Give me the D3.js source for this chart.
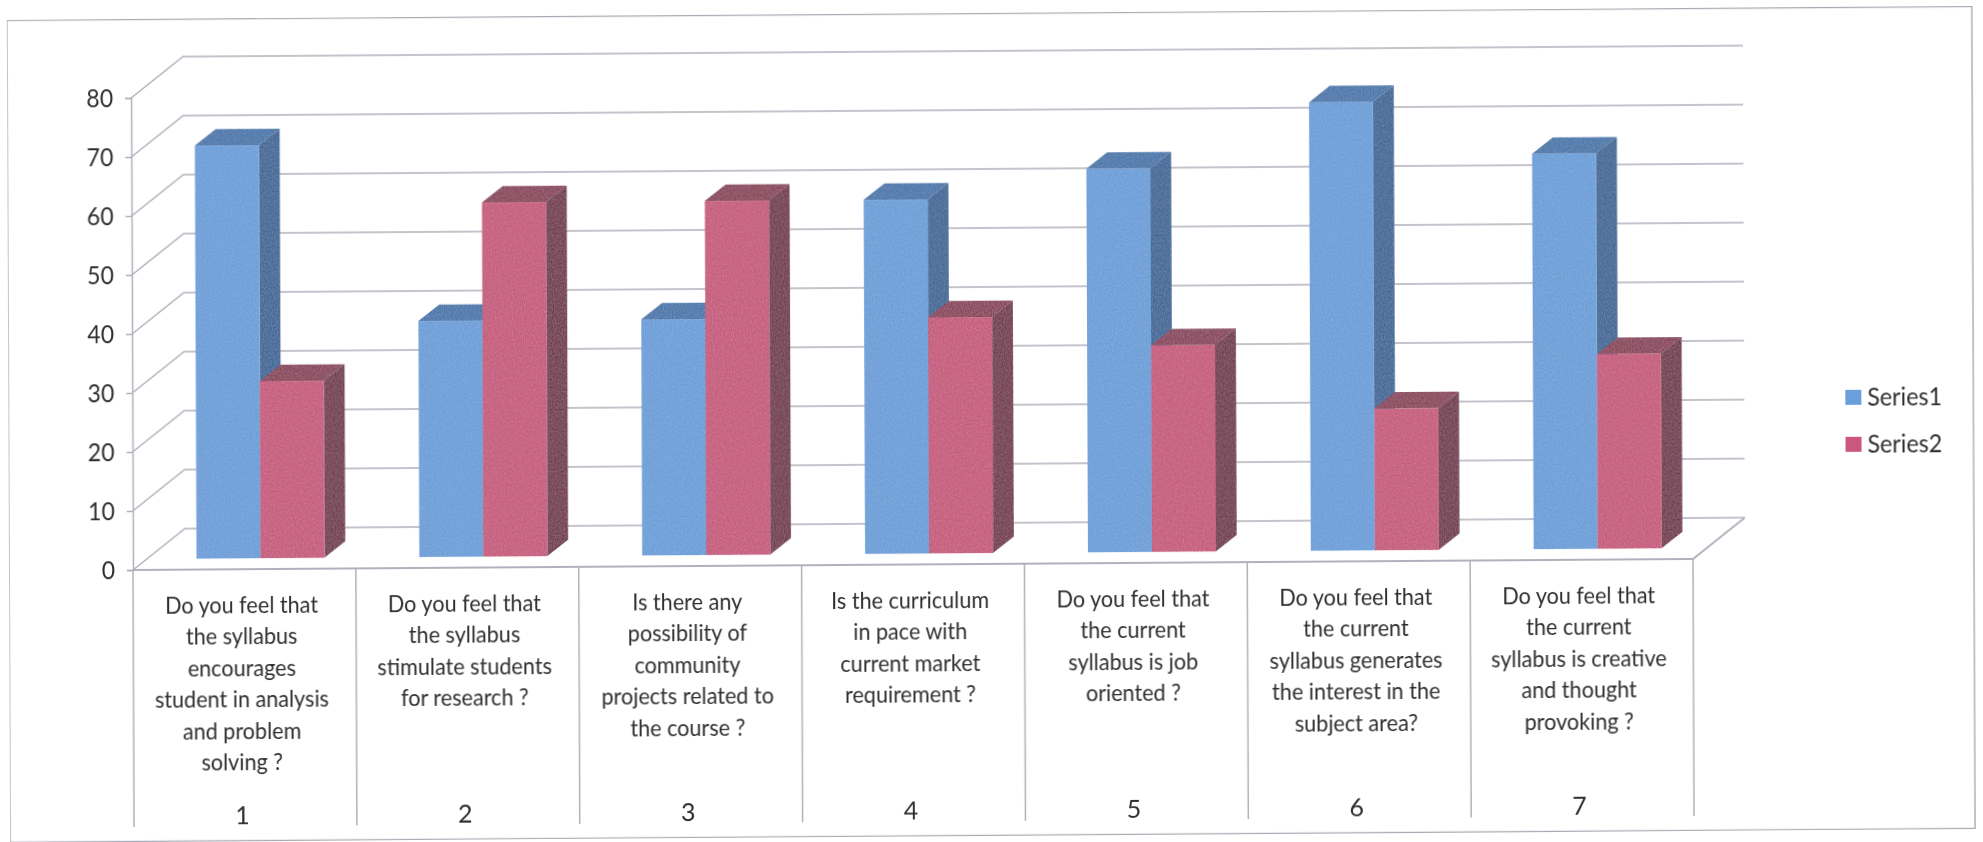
<!DOCTYPE html>
<html><head><meta charset="utf-8">
<script src="https://cdn.jsdelivr.net/npm/d3@7"></script>
<style>html,body{margin:0;background:#fff}svg{display:block}text{font-family:Lato,"Open Sans",sans-serif;fill:#2f2f2f}</style>
</head><body><svg id="c" width="1983" height="842"></svg>
<script>
const categories = ["1","2","3","4","5","6","7"];
const series1 = [70,40,40,60,65,76,67];
const series2 = [30,60,60,40,35,24,33];
const seriesNames = ["Series1","Series2"];
const yTicks = [0,10,20,30,40,50,60,70,80];
const labelLines = [
 ["Do you feel that","the syllabus","encourages","student in analysis","and problem","solving ?"],
 ["Do you feel that","the syllabus","stimulate students","for research ?"],
 ["Is there any","possibility of","community","projects related to","the course ?"],
 ["Is the curriculum","in pace with","current market","requirement ?"],
 ["Do you feel that","the current","syllabus is job","oriented ?"],
 ["Do you feel that","the current","syllabus generates","the interest in the","subject area?"],
 ["Do you feel that","the current","syllabus is creative","and thought","provoking ?"]
];
const palette = [
 {front:"#6b9ed8",side:"#3f6897",top:"#4a77ab",key:"#6a9fdb"},
 {front:"#c65a7d",side:"#733a4f",top:"#89445b",key:"#c9587c"}
];

const svg = d3.select("#c");
const defs = svg.append("defs");
const soft = defs.append("filter").attr("id","soft").attr("x",0).attr("y",0).attr("width","100%").attr("height","100%");
soft.append("feGaussianBlur").attr("stdDeviation",0.6);
const mottle = defs.append("filter").attr("id","mottle").attr("x",0).attr("y",0).attr("width","100%").attr("height","100%");
mottle.append("feTurbulence").attr("type","fractalNoise").attr("baseFrequency","0.9 0.5").attr("numOctaves",1).attr("seed",4).attr("result","n");
mottle.append("feColorMatrix").attr("in","n").attr("type","matrix")
  .attr("values","0 0 0 0 1  0 0 0 0 1  0 0 0 0 1  0.22 0 0 0 -0.07").attr("result","a");
mottle.append("feComposite").attr("in","a").attr("in2","SourceAlpha").attr("operator","in").attr("result","b");
const mm=mottle.append("feMerge"); mm.append("feMergeNode").attr("in","SourceGraphic"); mm.append("feMergeNode").attr("in","b");

const X0=133, X1=1693, Y0=570, Y80=98, DX=52, DY=-41, AXB=827;
const x = d3.scaleBand().domain(categories).range([X0,X1]);
const y = d3.scaleLinear().domain([0,80]).range([Y0,Y80]);
const barW = 64, d0=0.31, d1=0.71, barShift=1.8, textShift=-3;
const b=-0.00707, c=0.004;
const root = svg.append("g").attr("filter","url(#soft)")
  .attr("transform",`matrix(1,${b},${c},1,${-c*Y0},${-b*X0})`);

const gridC="#b2b0bc";
// frame
root.append("rect").attr("x",9).attr("y",19.5).attr("width",1965).attr("height",822)
  .attr("fill","none").attr("stroke","#aaaab6").attr("stroke-width",1.4);

// gridlines: back wall + side wall
const g=root.append("g").attr("stroke",gridC).attr("stroke-width",1.5).attr("fill","none");
g.selectAll("path.grid").data(yTicks).join("path").attr("class","grid")
 .attr("d",v=>`M${X0},${y(v)}L${X0+DX},${y(v)+DY}L${X1+DX},${y(v)+DY}`);
// floor front, right edge
g.append("path").attr("d",`M${X0},${Y0}L${X1},${Y0}L${X1+DX},${Y0+DY}`).attr("stroke-width",1.9);
// vertical separators
g.selectAll("path.sep").data(d3.range(categories.length+1)).join("path").attr("class","sep")
 .attr("d",i=>`M${X0+i*x.bandwidth()},${Y0}V${AXB}`);

// y axis
const yAxis = root.append("g").attr("transform",`translate(${X0},0)`)
 .call(d3.axisLeft(y).tickValues(yTicks).tickSize(6).tickPadding(12));
yAxis.select(".domain").attr("stroke",gridC).attr("stroke-width",1.5);
yAxis.selectAll("line").attr("stroke",gridC).attr("stroke-width",1.5);
yAxis.selectAll("text").attr("font-size",25).style("font-family","Lato").attr("fill","#2f2f2f")
 .attr("x",-18/0.92).attr("transform","scale(0.92,1)");

// bars
const bars=root.append("g").attr("filter","url(#mottle)");
categories.forEach((cat,i)=>{
  const cx=x(cat)+x.bandwidth()/2;
  [series1,series2].forEach((vals,s)=>{
    const v=vals[i], col=palette[s];
    const xl=cx+(s-1)*barW+d0*DX, xr=xl+barW;
    const yb=Y0+d0*DY+barShift, yt=yb-(Y0-y(v));
    const ddx=(d1-d0)*DX, ddy=(d1-d0)*DY;
    const gb=bars.append("g");
    gb.append("path").attr("fill",col.top).attr("d",`M${xl},${yt}L${xl+ddx},${yt+ddy}H${xr+ddx}L${xr},${yt}Z`);
    gb.append("path").attr("fill",col.side).attr("d",`M${xr},${yt}L${xr+ddx},${yt+ddy}V${yb+ddy}L${xr},${yb}Z`);
    gb.append("rect").attr("fill",col.front).attr("x",xl).attr("y",yt).attr("width",barW).attr("height",yb-yt);
  });
});

// category labels
const lab=root.append("g").attr("text-anchor","middle").attr("font-size",24);
labelLines.forEach((lines,i)=>{
  const cx=x(categories[i])+x.bandwidth()/2+textShift;
  lab.selectAll(null).data(lines).join("text")
   .attr("transform",(d,j)=>`translate(${cx},${613.5+j*31.5}) scale(0.9,1)`).text(d=>d);
});
// number axis
const xAxis=root.append("g").attr("transform",`translate(${textShift},${AXB-26})`)
 .call(d3.axisBottom(x).tickSize(0).tickPadding(6));
xAxis.select(".domain").remove();
xAxis.selectAll("text").attr("font-size",25).style("font-family","Lato").attr("fill","#2f2f2f");

// legend
const leg=root.append("g").selectAll("g").data(seriesNames).join("g")
 .attr("transform",(d,i)=>`translate(1846,${402+i*47})`);
leg.append("rect").attr("width",16).attr("height",15).attr("fill",(d,i)=>palette[i].key);
leg.append("text").attr("transform","translate(22,16) scale(0.93,1)").attr("font-size",25).text(d=>d);
</script></body></html>
